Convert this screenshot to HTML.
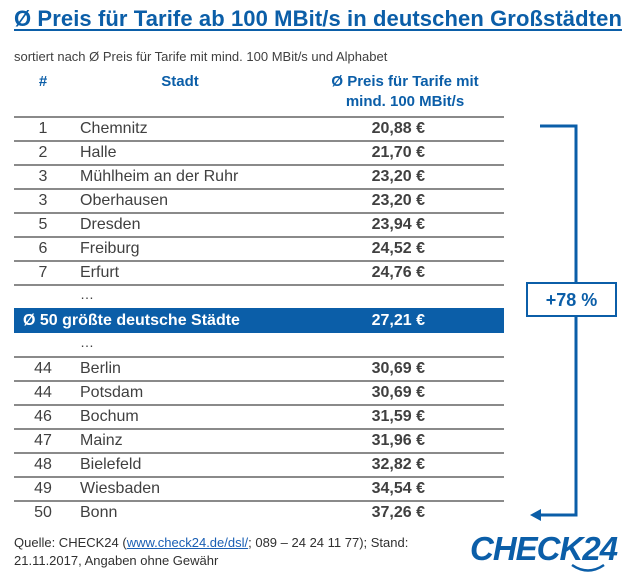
<!DOCTYPE html>
<html><head><meta charset="utf-8"><style>
body{margin:0;width:630px;height:578px;background:#fff;font-family:"Liberation Sans",sans-serif;position:relative;overflow:hidden}
.a{position:absolute;white-space:nowrap}
.title{left:14px;top:6px;font-size:22px;font-weight:bold;color:#0b5ea8;text-decoration:underline;text-decoration-thickness:2px;text-underline-offset:3px;letter-spacing:0.1px}
.sub{left:14px;top:49px;font-size:13px;color:#404040}
.hd{font-size:15px;font-weight:bold;color:#0b5ea8;text-align:center;line-height:20px}
.row{position:absolute;left:14px;width:490px;height:24px;font-size:16px;color:#404040;line-height:24px}
.row .n{position:absolute;left:0;width:58px;text-align:center}
.row .c{position:absolute;left:66px}
.row .p{position:absolute;right:79px;font-weight:bold}
.sep{position:absolute;left:14px;width:490px;height:2px;background:#8a8a8a}
.hl{position:absolute;left:14px;top:308px;width:490px;height:25px;background:#0b5ea8;color:#fff;font-weight:bold;font-size:16px;line-height:25px}
.src{left:14px;top:534px;font-size:13px;color:#303030;line-height:18px}
</style></head><body>
<div class="a title">Ø Preis für Tarife ab 100 MBit/s in deutschen Großstädten</div>
<div class="a sub">sortiert nach Ø Preis für Tarife mit mind. 100 MBit/s und Alphabet</div>
<div class="a hd" style="left:30px;top:72px;width:26px">#</div>
<div class="a hd" style="left:130px;top:72px;width:100px">Stadt</div>
<div class="a hd" style="left:300px;top:72px;width:210px">Ø Preis für Tarife mit<br>mind. 100 MBit/s</div>
<div id="tbl"></div>
<div class="a" style="left:80px;top:286px;font-size:14px;color:#404040">…</div>
<div class="hl"><span style="position:absolute;left:9px">Ø 50 größte deutsche Städte</span><span style="position:absolute;right:79px">27,21 €</span></div>
<div class="a" style="left:80px;top:334px;font-size:14px;color:#404040">…</div>
<svg class="a" style="left:0;top:0" width="630" height="578">
<path d="M540 126 H576 V283 M576 316 V515 H540" fill="none" stroke="#0b5ea8" stroke-width="3"/>
<path d="M530 515 L541 509 L541 521 Z" fill="#0b5ea8"/>
<rect x="527" y="283" width="89" height="33" fill="#fff" stroke="#0b5ea8" stroke-width="2"/>
<text x="571.5" y="306" text-anchor="middle" font-family="Liberation Sans" font-weight="bold" font-size="18" fill="#0b5ea8">+78 %</text>
</svg>
<div class="a src">Quelle: CHECK24 (<span style="color:#1a5fb4;text-decoration:underline">www.check24.de/dsl/</span>; 089 – 24 24 11 77); Stand:<br>21.11.2017, Angaben ohne Gewähr</div>
<div class="a" style="left:470px;top:530px;font-size:33px;font-weight:bold;font-style:italic;color:#0b5ea8;letter-spacing:-1px">CHECK24</div>
<svg class="a" style="left:568px;top:562px" width="40" height="14"><path d="M4 3 Q20 14 36 3" fill="none" stroke="#0b5ea8" stroke-width="2.5"/></svg>
<script>
const ranksTop=["1","2","3","3","5","6","7"];
const citiesTop=["Chemnitz","Halle","Mühlheim an der Ruhr","Oberhausen","Dresden","Freiburg","Erfurt"];
const pricesTop=["20,88 €","21,70 €","23,20 €","23,20 €","23,94 €","24,52 €","24,76 €"];
const ranksBot=["44","44","46","47","48","49","50"];
const citiesBot=["Berlin","Potsdam","Bochum","Mainz","Bielefeld","Wiesbaden","Bonn"];
const pricesBot=["30,69 €","30,69 €","31,59 €","31,96 €","32,82 €","34,54 €","37,26 €"];
const t=document.getElementById('tbl');
function block(r,c,p,y0,lastLine){
 for(let i=0;i<r.length;i++){
  const s=document.createElement('div');s.className='sep';s.style.top=(y0+i*24-1)+'px';
  
  
  t.appendChild(s);
  const d=document.createElement('div');d.className='row';d.style.top=(y0+i*24)+'px';
  
  
  d.innerHTML='<span class="n">'+r[i]+'</span><span class="c">'+c[i]+'</span><span class="p">'+p[i]+'</span>';
  t.appendChild(d);
 }
 if(lastLine){const s=document.createElement('div');s.className='sep';s.style.top=(y0+r.length*24-1)+'px';
  
  
  t.appendChild(s);}
}
block(ranksTop,citiesTop,pricesTop,117,true);
block(ranksBot,citiesBot,pricesBot,357,false);
</script>
</body></html>
